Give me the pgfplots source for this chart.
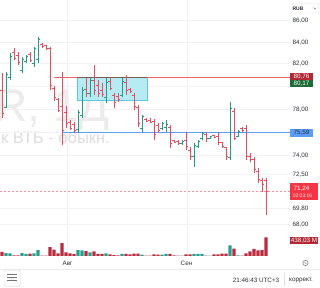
\documentclass[border=0pt]{standalone}
\usepackage{fontspec}
\setmainfont{Liberation Sans}
\usepackage{pgfplots}
\usepackage{pgfplotstable}
\pgfplotsset{compat=1.18}

\definecolor{upc}{HTML}{1E9E86}
\definecolor{dnc}{HTML}{EE4A5D}
\definecolor{vup}{HTML}{26A08C}
\definecolor{vdn}{HTML}{BA2B3E}
\definecolor{hlred}{HTML}{F0636E}
\definecolor{hlblue}{HTML}{5B9CF6}
\definecolor{boxc}{HTML}{B6EBF3}
\definecolor{boxd}{HTML}{5CC9DA}
\definecolor{gridc}{HTML}{EFF1F4}
\definecolor{txt}{HTML}{2A2E39}
\definecolor{darkred}{HTML}{B22833}
\definecolor{dkgreen}{HTML}{1D6B35}
\definecolor{lastred}{HTML}{F23645}
\definecolor{wm}{HTML}{EBEBEB}
\definecolor{wm2}{HTML}{DDDDDD}
\definecolor{boxtop}{HTML}{7A5A50}

\pgfdeclareplotmark{ohlcL}{\pgfpathmoveto{\pgfpoint{-2pt}{0pt}}\pgfpathlineto{\pgfpoint{0pt}{0pt}}\pgfusepathqstroke}
\pgfdeclareplotmark{ohlcR}{\pgfpathmoveto{\pgfpoint{0pt}{0pt}}\pgfpathlineto{\pgfpoint{2pt}{0pt}}\pgfusepathqstroke}

% rising bars: i open high low close volume
\pgfplotstableread{
i O H L C V
1 78.3 81.49 78.25 81.2 70
2 81.0 83.12 80.76 82.8 62
5 81.6 82.82 81.35 82.6 70
6 82.4 82.97 82.23 82.8 47
8 82.2 83.70 81.93 83.5 62
9 82.6 84.59 82.23 84.3 140
19 76.4 78.10 76.04 77.9 140
20 77.6 80.10 77.40 79.8 133
22 79.6 81.05 79.28 80.7 86
26 79.2 80.90 78.70 80.5 62
30 79.4 80.90 79.28 80.6 47
35 76.5 77.66 76.19 77.5 31
40 76.5 77.07 76.34 76.9 31
41 76.6 77.20 76.20 76.8 47
45 75.1 75.45 75.01 75.35 8
48 74.0 75.19 73.06 75.0 47
49 74.9 75.45 74.73 75.3 47
50 75.6 76.19 75.45 76.0 47
52 75.6 75.80 75.57 75.75 8
57 73.9 78.84 73.68 78.2 250
59 75.8 76.34 75.74 76.2 16
}\upbars

% falling bars
\pgfplotstableread{
i O H L C V
0 79.8 81.35 77.37 77.8 94
3 83.2 83.56 82.53 82.7 16
4 82.9 83.26 82.08 82.3 16
7 83.0 83.26 82.38 82.5 55
10 83.9 84.05 83.56 83.7 8
11 83.8 83.85 83.41 83.5 8
12 83.5 83.70 79.87 80.3 210
13 80.0 80.20 78.90 79.2 148
14 79.0 79.20 77.90 78.1 62
15 78.4 81.50 75.00 76.3 304
16 77.9 78.50 76.50 76.9 86
17 77.0 77.22 76.34 76.5 62
18 76.8 77.07 76.04 76.3 47
21 79.9 80.90 79.28 79.6 117
23 80.7 82.08 79.43 79.8 109
24 80.3 80.76 79.28 79.6 47
25 79.8 80.47 79.28 79.5 47
27 80.6 81.05 79.87 80.0 39
28 79.4 79.58 78.25 78.8 23
29 79.3 79.58 78.84 79.0 16
31 80.5 81.20 79.43 79.8 47
32 79.9 80.02 79.58 79.7 39
33 79.4 79.58 78.10 78.4 55
34 78.3 78.55 76.63 76.9 55
36 77.3 77.40 77.00 77.1 8
37 77.2 77.40 76.95 77.0 8
38 77.1 77.30 75.45 75.9 39
39 76.7 76.95 76.07 76.3 31
42 76.6 76.78 74.72 75.1 47
43 75.4 75.45 75.16 75.2 16
44 75.35 75.45 75.01 75.1 8
46 75.4 76.19 74.57 74.9 39
47 74.5 74.80 73.70 74.0 39
51 75.9 76.19 75.30 75.6 8
53 75.85 75.90 75.60 75.7 39
54 75.8 76.19 75.00 75.2 39
55 75.2 75.30 74.72 74.9 55
56 74.8 74.86 73.68 74.0 55
58 78.0 78.25 75.45 75.6 172
60 76.5 76.63 76.19 76.3 8
61 76.5 76.78 73.68 74.0 60
62 74.0 74.27 73.53 73.7 109
63 73.7 73.97 72.50 72.8 164
64 72.7 72.95 71.62 72.0 133
65 71.9 72.07 70.88 71.5 140
66 71.9 72.07 68.82 70.94 438
}\dnbars

\begin{document}
\begin{tikzpicture}[x=1pt,y=1pt]
\useasboundingbox (0pt,0pt) rectangle (320pt,288pt);
\fill[white] (0pt,0pt) rectangle (320pt,288pt);

% watermark
\begin{scope}
\clip (0pt,56pt) rectangle (290pt,288pt);
\node[anchor=base east, inner sep=0pt, text=wm, font=\fontsize{46}{46}\selectfont] at (110pt,166pt) {VTBR, 1Д};
\node[anchor=base east, inner sep=0pt, text=wm2, font=\fontsize{16.5}{16.5}\selectfont] at (110pt,144pt) {Банк ВТБ - обыкн.};
\end{scope}

% price pane
\begin{axis}[name=price, at={(0pt,56pt)}, anchor=south west, scale only axis,
  width=290pt, height=232pt,
  xmin=-0.5, xmax=72, ymin=67.317, ymax=87.83,
  axis line style={draw=none}, major tick length=0pt,
  xtick={16.4,46.2}, xticklabels={}, xmajorgrids,
  ytick={86,84.09,82.23,80.20,78.17,76.12,74.06,72.42,69.41,68},
  yticklabels={{86,00},{84,00},{82,00},{},{78,00},{},{74,00},{72,50},{69,80},{68,00}},
  ymajorgrids, grid style={gridc, line width=0.6pt},
  yticklabel pos=right,
  yticklabel style={anchor=center, xshift=10.5pt, font=\fontsize{6.3}{7}\selectfont, text=txt}]
\draw[boxd, fill=boxc, line width=0.6pt] (axis cs:18.75,78.93) rectangle (axis cs:36.25,80.96);
\draw[hlred, line width=0.8pt] (axis cs:13,80.96) -- (axis cs:72,80.96);
\draw[boxtop, line width=0.8pt] (axis cs:18.75,80.96) -- (axis cs:36.25,80.96);
\draw[hlblue, line width=0.8pt] (axis cs:15.25,76.16) -- (axis cs:72,76.16);
\draw[lastred!55, dash pattern=on 2pt off 2pt, line width=0.6pt] (axis cs:-0.5,70.94) -- (axis cs:72,70.94);
% falling bars
\addplot[draw=none, mark=none,
  error bars/.cd, y dir=plus, y explicit, error mark=none,
  error bar style={draw=dnc, solid, line width=1pt}]
  table[x=i, y=L, y error expr=\thisrow{H}-\thisrow{L}] {\dnbars};
\addplot[dnc, only marks, mark=ohlcL, mark options={line width=1pt}] table[x=i, y=O] {\dnbars};
\addplot[dnc, only marks, mark=ohlcR, mark options={line width=1pt}] table[x=i, y=C] {\dnbars};
% rising bars
\addplot[draw=none, mark=none,
  error bars/.cd, y dir=plus, y explicit, error mark=none,
  error bar style={draw=upc, solid, line width=1pt}]
  table[x=i, y=L, y error expr=\thisrow{H}-\thisrow{L}] {\upbars};
\addplot[upc, only marks, mark=ohlcL, mark options={line width=1pt}] table[x=i, y=O] {\upbars};
\addplot[upc, only marks, mark=ohlcR, mark options={line width=1pt}] table[x=i, y=C] {\upbars};
\end{axis}

% volume pane
\begin{axis}[name=vol, at={(0pt,32pt)}, anchor=south west, scale only axis,
  width=290pt, height=24pt,
  xmin=-0.5, xmax=72, ymin=0, ymax=562,
  axis line style={draw=none}, major tick length=0pt,
  xtick={16.4,46.2}, xticklabels={}, xmajorgrids, grid style={gridc, line width=0.6pt},
  ytick=\empty]
\addplot[ybar, bar width=3.2pt, bar shift=0pt, fill=vup, draw=none] table[x=i, y=V] {\upbars};
\addplot[ybar, bar width=3.2pt, bar shift=0pt, fill=vdn, draw=none] table[x=i, y=V] {\dnbars};
\end{axis}

% date labels
\node[text=txt, font=\fontsize{6.3}{7}\selectfont] at (67.5pt,25pt) {Авг};
\node[text=txt, font=\fontsize{6.3}{7}\selectfont] at (186.5pt,25pt) {Сен};

% right price scale labels
\draw[black!12, rounded corners=1pt] (291pt,275pt) rectangle (319pt,284.5pt);
\node[text=txt, font=\bfseries\fontsize{5}{6}\selectfont] at (298pt,279.5pt) {RUB};
\draw[black!60, line width=0.4pt] (313.5pt,280.3pt) -- (314.8pt,279pt) -- (316.1pt,280.3pt);

\fill[darkred] (290pt,208pt) rectangle (313pt,215.3pt);
\node[text=white, font=\fontsize{6.3}{7}\selectfont] at (301.5pt,211.7pt) {80,76};
\fill[dkgreen] (290pt,200.7pt) rectangle (313pt,208pt);
\node[text=white, font=\fontsize{6.3}{7}\selectfont] at (301.5pt,204.3pt) {80,17};
\fill[hlblue] (290pt,151.3pt) rectangle (313pt,159.3pt);
\node[text=txt, font=\fontsize{6.3}{7}\selectfont] at (301.5pt,155.3pt) {75,59};
\fill[lastred] (290pt,88pt) rectangle (318pt,105pt);
\node[text=white, font=\fontsize{6.3}{7}\selectfont] at (301.5pt,99.5pt) {71,24};
\node[text=white!85!lastred, font=\fontsize{5}{6}\selectfont] at (302.5pt,92.5pt) {02:03:16};
\fill[darkred] (290pt,44pt) rectangle (318pt,51.3pt);
\node[text=white, font=\fontsize{6.3}{7}\selectfont] at (304pt,47.7pt) {438,03 M};
\draw[black!55, line width=0.5pt] (305.5pt,25pt) circle (2.6pt);
\draw[black!55, line width=0.4pt] (304.5pt,25.8pt) -- (306.3pt,24.2pt);

% bottom bar
\draw[black!8, line width=0.5pt] (0pt,18.5pt) -- (320pt,18.5pt);
\node[text=txt, font=\fontsize{6.3}{7}\selectfont] at (256pt,8pt) {21:46:43 UTC+3};
\draw[black!12, line width=0.5pt] (284pt,2pt) -- (284pt,15pt);
\begin{scope}
\clip (285pt,0pt) rectangle (320pt,18pt);
\node[anchor=west, inner sep=0pt, text=txt, font=\fontsize{6.3}{7}\selectfont] at (289pt,8pt) {коррект.};
\end{scope}
\fill[black!6, rounded corners=2pt] (4.5pt,1pt) rectangle (21pt,18pt);
\draw[black!10, fill=white, rounded corners=2pt] (4pt,2pt) rectangle (20pt,17.5pt);
\draw[black!55, line width=0.4pt] (7pt,13.5pt) -- (17pt,13.5pt) (7pt,10.5pt) -- (17pt,10.5pt) (7pt,7.5pt) -- (17pt,7.5pt);
\draw[black!55, line width=0.4pt, dotted] (7pt,12pt) -- (12pt,9pt) -- (17pt,6pt);
\end{tikzpicture}
\end{document}
